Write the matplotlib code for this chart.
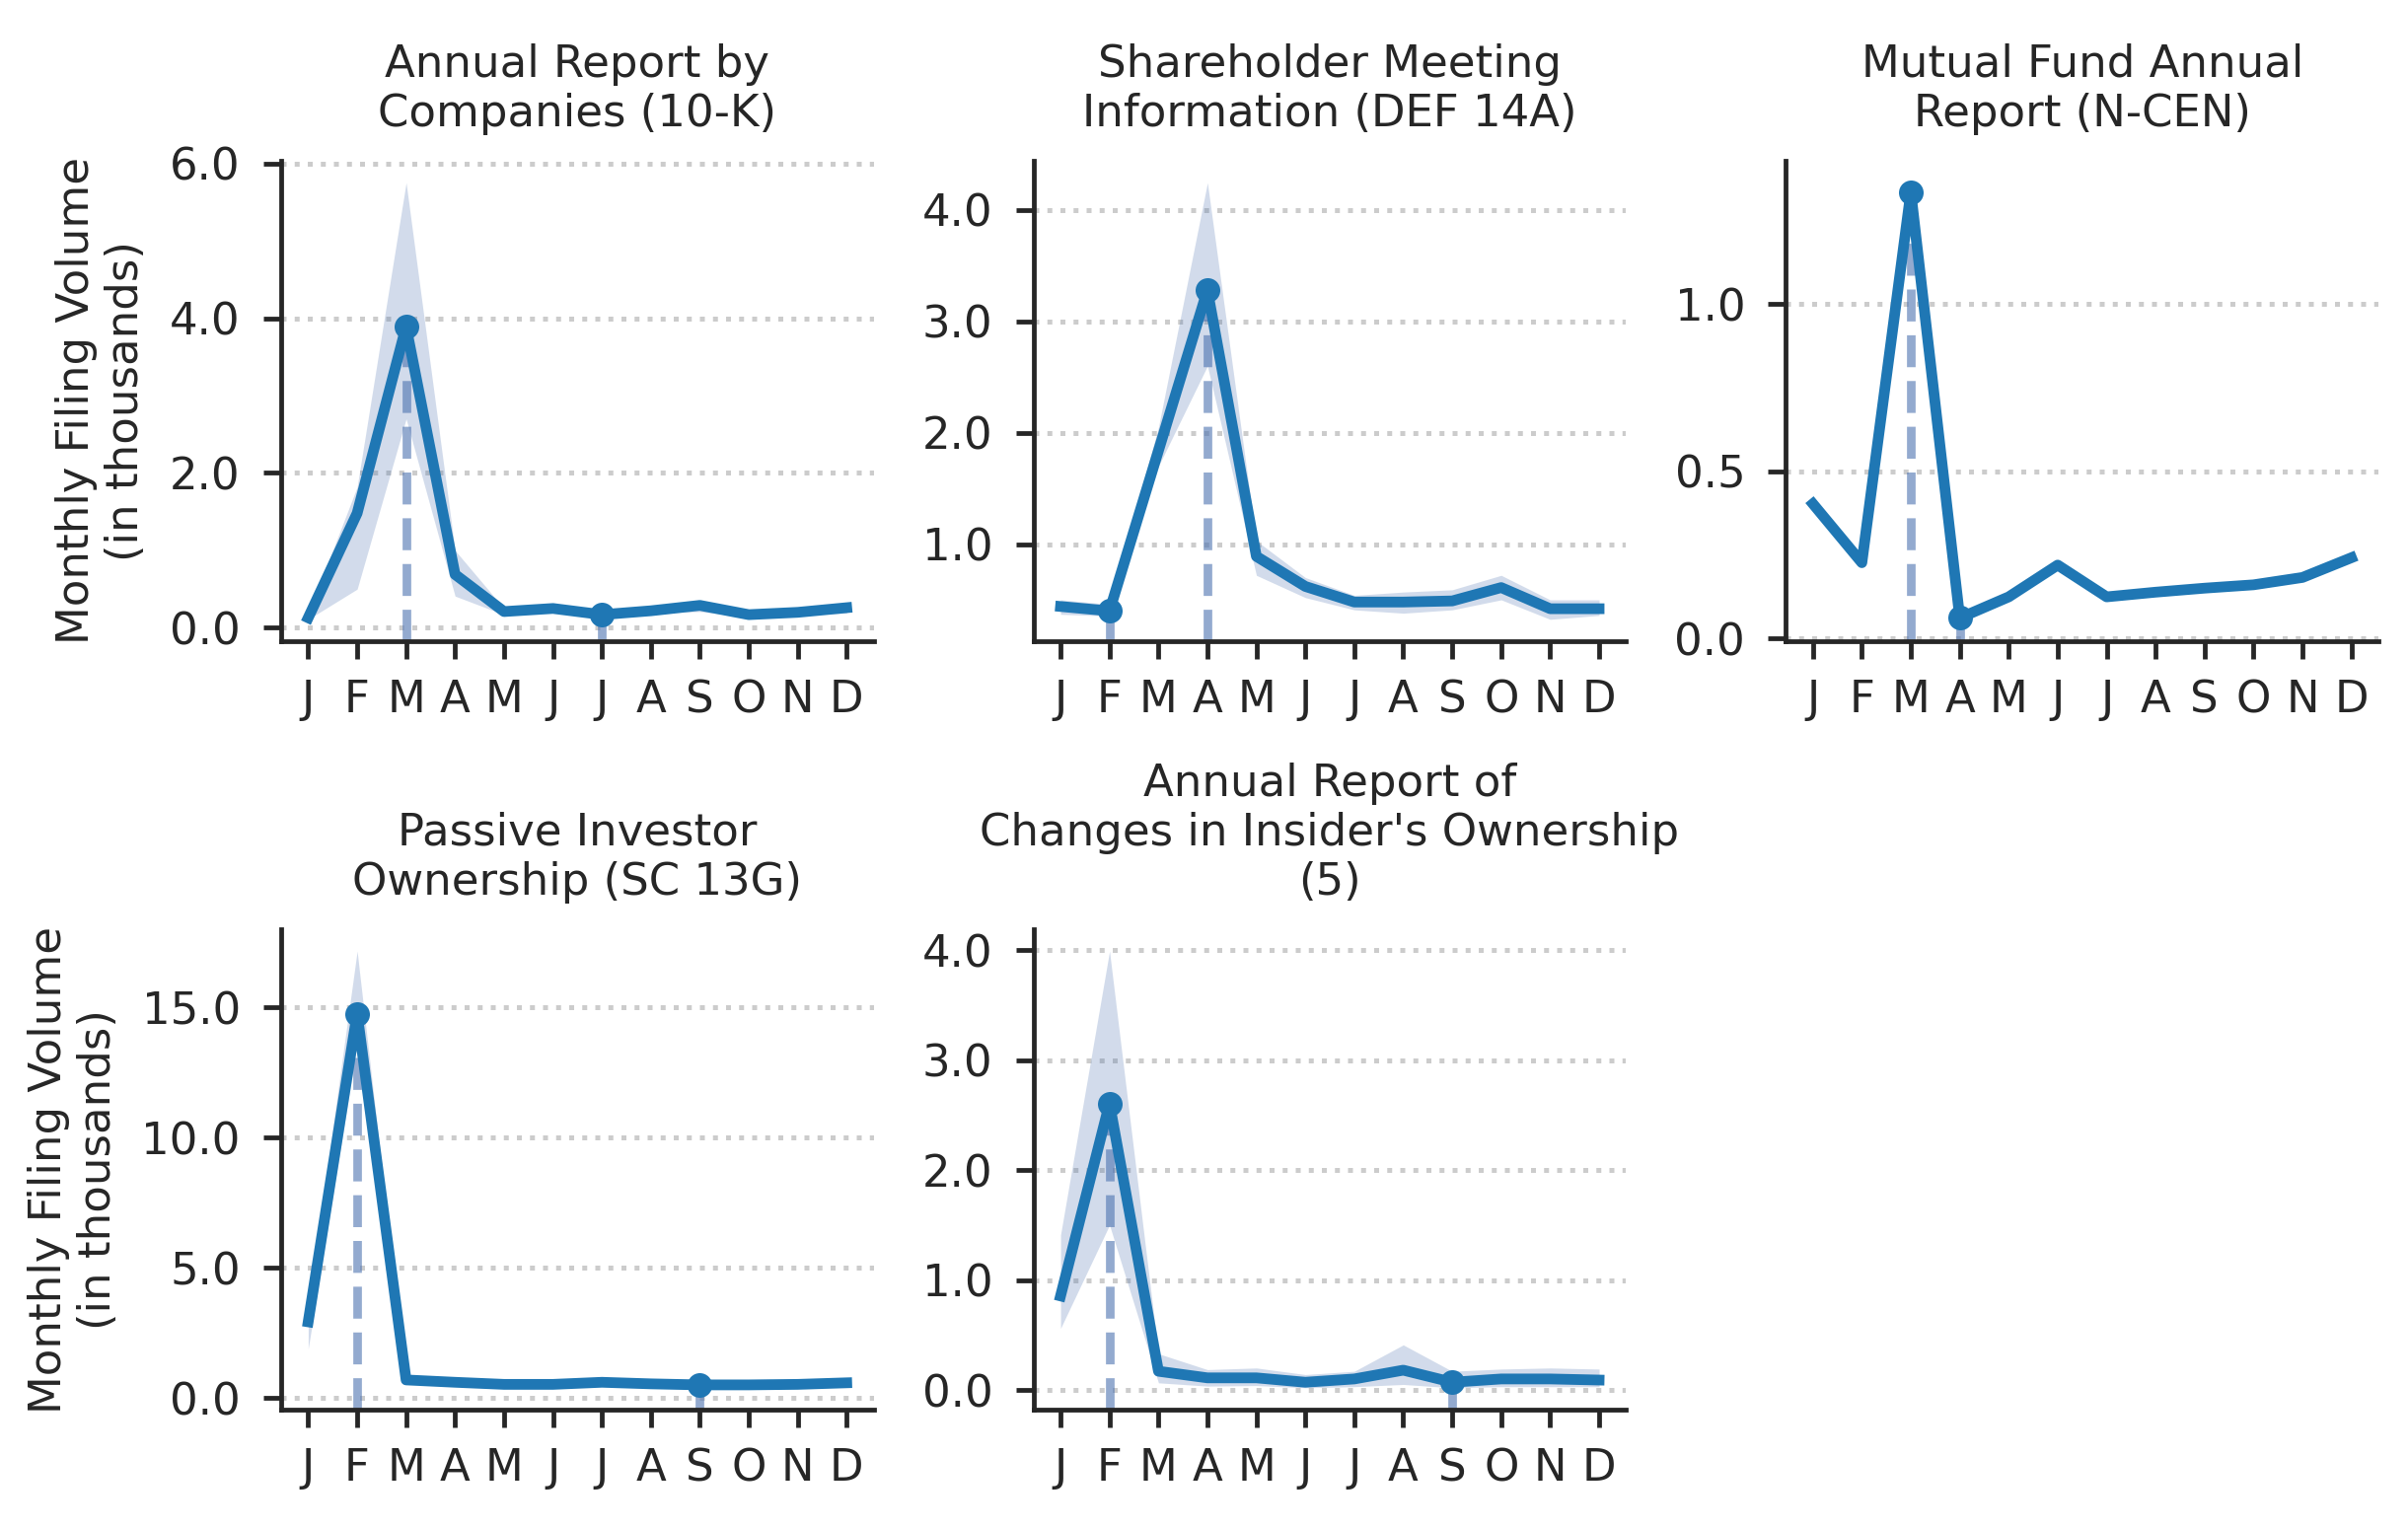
import numpy as np
import matplotlib
matplotlib.use("Agg")
import matplotlib.pyplot as plt
from matplotlib.ticker import MultipleLocator, FormatStrFormatter

months = ["J", "F", "M", "A", "M", "J", "J", "A", "S", "O", "N", "D"]

titles = [
    "Annual Report by\nCompanies (10-K)",
    "Shareholder Meeting\nInformation (DEF 14A)",
    "Mutual Fund Annual\nReport (N-CEN)",
    "Passive Investor\nOwnership (SC 13G)",
    "Annual Report of\nChanges in Insider's Ownership\n(5)",
]

# monthly filing volume (thousands): mean and band
tenk_mean = [0.13, 1.48, 3.89, 0.69, 0.21, 0.25, 0.17, 0.22, 0.29, 0.17, 0.20, 0.26]
tenk_low = [0.11, 0.50, 2.70, 0.41, 0.17, 0.22, 0.14, 0.19, 0.21, 0.14, 0.17, 0.19]
tenk_high = [0.18, 1.82, 5.75, 1.00, 0.25, 0.28, 0.20, 0.25, 0.35, 0.20, 0.23, 0.33]

def14a_mean = [0.44, 0.40, 1.84, 3.28, 0.89, 0.62, 0.48, 0.48, 0.49, 0.61, 0.42, 0.42]
def14a_low = [0.37, 0.355, 1.70, 2.60, 0.72, 0.52, 0.41, 0.38, 0.41, 0.50, 0.325, 0.36]
def14a_high = [0.50, 0.46, 2.05, 4.245, 1.03, 0.70, 0.54, 0.57, 0.59, 0.72, 0.50, 0.50]

ncen_mean = [0.403, 0.227, 1.334, 0.062, 0.125, 0.22, 0.125, 0.139, 0.151, 0.161, 0.183, 0.242]
ncen_low = [0.403, 0.227, 1.334, 0.058, 0.125, 0.22, 0.125, 0.139, 0.151, 0.161, 0.183, 0.242]
ncen_high = [0.403, 0.227, 1.362, 0.062, 0.125, 0.22, 0.125, 0.139, 0.151, 0.161, 0.183, 0.242]

sc13g_mean = [2.93, 14.76, 0.70, 0.61, 0.53, 0.53, 0.61, 0.55, 0.51, 0.51, 0.53, 0.59]
sc13g_low = [1.89, 13.60, 0.60, 0.52, 0.45, 0.45, 0.52, 0.46, 0.40, 0.43, 0.45, 0.50]
sc13g_high = [3.50, 17.16, 0.80, 0.70, 0.61, 0.61, 0.70, 0.64, 0.60, 0.59, 0.61, 0.68]

form5_mean = [0.855, 2.605, 0.17, 0.11, 0.11, 0.07, 0.10, 0.18, 0.07, 0.10, 0.10, 0.09]
form5_low = [0.56, 1.50, 0.065, 0.035, 0.04, 0.02, 0.03, 0.05, 0.02, 0.03, 0.03, 0.03]
form5_high = [1.41, 3.99, 0.33, 0.185, 0.20, 0.14, 0.17, 0.41, 0.17, 0.19, 0.20, 0.19]

means = [tenk_mean, def14a_mean, ncen_mean, sc13g_mean, form5_mean]
lows = [tenk_low, def14a_low, ncen_low, sc13g_low, form5_low]
highs = [tenk_high, def14a_high, ncen_high, sc13g_high, form5_high]

# highlighted months (peak, low) per panel
peak_month = [2, 3, 2, 1, 1]
low_month = [6, 1, 3, 8, 8]

# y tick spacing per panel
y_steps = [2.0, 1.0, 0.5, 5.0, 1.0]

plt.rcParams.update({
    "font.family": "DejaVu Sans",
    "font.size": 10.8,
    "axes.titlesize": 10.8,
    "axes.labelsize": 10.8,
    "xtick.labelsize": 10.8,
    "ytick.labelsize": 10.8,
    "text.color": ".15",
    "axes.edgecolor": ".15",
    "axes.labelcolor": ".15",
    "xtick.color": ".15",
    "ytick.color": ".15",
    "axes.linewidth": 1.15,
    "xtick.major.width": 1.15,
    "ytick.major.width": 1.15,
    "xtick.major.size": 4.4,
    "ytick.major.size": 4.4,
    "xtick.major.pad": 4.8,
    "ytick.major.pad": 5.5,
})

fig, axes = plt.subplots(2, 3, figsize=(2441 / 300, 1550 / 300), dpi=300)
fig.subplots_adjust(left=0.1168, right=0.9877, bottom=0.0781, top=0.8948,
                    wspace=0.27, hspace=0.6)
axes = axes.flatten()
axes[5].axis("off")

line_col = "#1f77b4"
band_col = "#4c72b0"
x = np.arange(12)

for i in range(5):
    ax = axes[i]
    m = np.array(means[i])
    ax.fill_between(x, lows[i], highs[i], color=band_col, alpha=0.25, lw=0)
    ax.plot(x, m, color=line_col, lw=2.6, zorder=3)
    ax.set_xticks(x)
    ax.set_xticklabels(months)
    ax.yaxis.set_major_locator(MultipleLocator(y_steps[i]))
    ax.yaxis.set_major_formatter(FormatStrFormatter("%.1f"))
    ax.yaxis.grid(True, linestyle=":", color=".8", lw=1.2)
    ax.set_axisbelow(True)
    ax.spines["top"].set_visible(False)
    ax.spines["right"].set_visible(False)
    ax.set_title(titles[i], pad=8.5)

    ylim = ax.get_ylim()
    for k in (peak_month[i], low_month[i]):
        ax.vlines(k, ylim[0], m[k], colors=band_col, alpha=0.6,
                  linestyles="--", lw=2.1, zorder=2)
        ax.plot(k, m[k], "o", color=line_col, ms=6, mew=0, zorder=4)
    ax.set_ylim(ylim)

    if i % 3 == 0:
        ax.set_ylabel("Monthly Filing Volume\n(in thousands)", labelpad=5.5)

fig.savefig("out.png", dpi=300)
